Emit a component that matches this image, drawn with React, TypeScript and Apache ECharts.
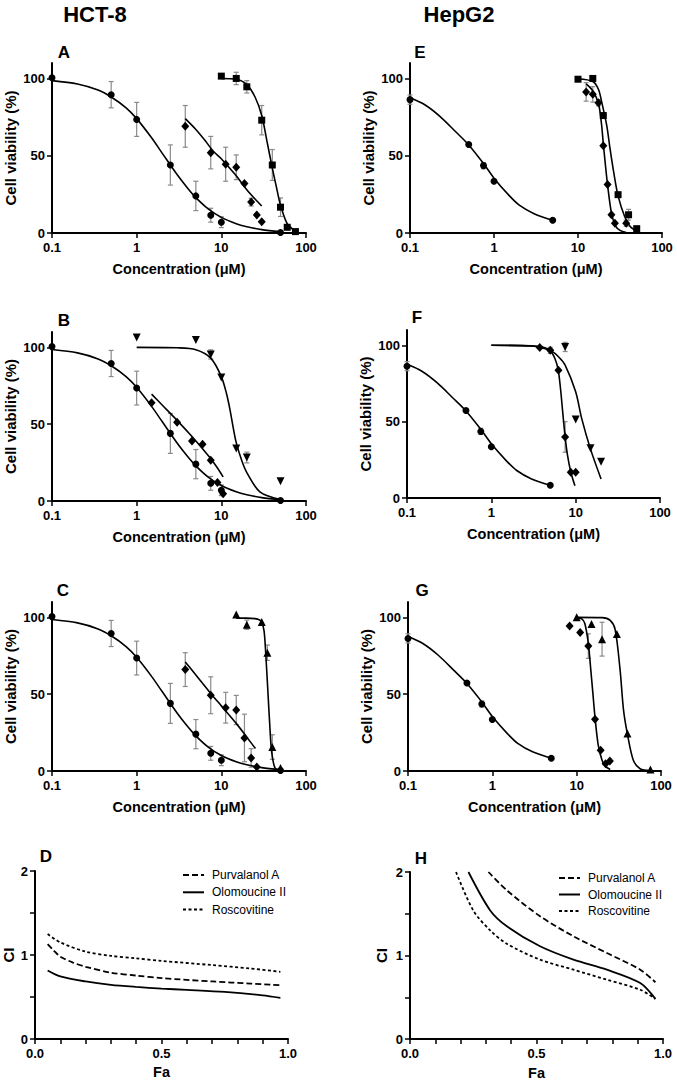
import React, { useEffect, useRef } from 'react';
import * as echarts from 'echarts';

// ---------- HCT-8 reference compound (circles, panels A-C) ----------
const hctRefX = [0.1, 0.5, 1, 2.5, 5, 7.5, 10, 50];
const hctRefY = [100.5, 89.5, 73.5, 44, 24, 11.5, 7, 0.3];
const hctRefErr = [0, 8.5, 11, 13, 9.5, 4.5, 3.5, 0];
const hctRefCurve = [[0.1, 98.6], [0.2, 96.4], [0.35, 92.5], [0.5, 88], [0.75, 81], [1, 74], [1.5, 61.6], [2, 51.7], [3, 37.8], [4, 29], [5, 22.9], [7, 15.6], [10, 10.1], [15, 6], [20, 4.1], [30, 2.2], [50, 0.8]];

// ---------- Panel A ----------
const aDiaX = [3.75, 7.5, 11.25, 15, 18.75, 22.5, 26.25, 30];
const aDiaY = [69, 52, 44.5, 42.5, 32, 20, 11.7, 7.3];
const aDiaErr = [13.5, 10.5, 11, 8, 0, 2.5, 0, 0];
const aDiaCurve = [[3.75, 74], [5, 67], [6.5, 59.5], [8, 53], [10, 48], [12.5, 42], [15, 37], [20, 28], [25, 22], [30, 17.5]];
const aSqX = [10, 15, 20, 30, 40, 50, 60, 75];
const aSqY = [101.5, 100, 94.6, 73, 44, 16.7, 3.7, 0.9];
const aSqErr = [0, 4, 4, 9.5, 10, 6, 0, 0];
const aSqCurve = [[10, 100], [15, 99.5], [20, 96], [25, 88], [30, 76], [35, 58], [40, 42], [45, 29], [50, 18], [60, 6], [75, 1.2]];

// ---------- Panel B ----------
const bDiaX = [1.5, 3, 4.5, 6, 7.5, 9, 10.5];
const bDiaY = [64, 51.3, 39, 37, 26.5, 12, 4.8];
const bDiaCurve = [[1.5, 69.6], [2, 62.5], [3, 52.5], [4.5, 42], [6, 34], [7.5, 27.5], [9, 21.5], [10.5, 15.7]];
const bTriX = [1, 5, 7.5, 10, 15, 20, 50];
const bTriY = [106.5, 104.8, 95.4, 80.4, 34.1, 28.3, 12.8];
const bTriErr = [0, 0, 3, 0, 0, 3.5, 0];
const bTriCurve = [[1, 100], [3, 99.7], [5, 98.5], [7.5, 93], [10, 81], [11.5, 70], [12.6, 60], [14, 46], [15, 38], [17.5, 26], [20, 18.5], [28.5, 6], [50, 1]];

// ---------- Panel C ----------
const cDiaX = [3.75, 7.5, 11.25, 15, 18.75, 22.5, 26.25];
const cDiaY = [66, 49.3, 41.2, 39.7, 21.5, 8.5, 2.6];
const cDiaErr = [11, 12, 10, 9.5, 15.5, 6, 0];
const cDiaCurve = [[3.75, 71], [5, 62.5], [7.5, 50.5], [10, 42.4], [15, 31], [20, 22], [25.3, 14.6]];
const cTriX = [15, 20, 30, 35, 40, 50];
const cTriY = [101.8, 95.2, 97, 77, 15.6, 2];
const cTriErr = [0, 3, 0, 5, 8, 0];
const cTriCurve = [[15, 99.5], [20, 99.5], [25, 99.2], [28, 98.5], [30, 97], [32, 91], [33.5, 76], [35.7, 49], [37.5, 28], [39.2, 13], [43, 2], [50, 0.2]];

// ---------- HepG2 reference compound (circles, panels E-G) ----------
const hepRefX = [0.1, 0.5, 0.75, 1, 5];
const hepRefY = [86.3, 57.3, 43.6, 33.5, 8.3];
const hepRefErr = [3, 0, 2, 0, 0];
const hepRefCurve = [[0.1, 87.5], [0.15, 83], [0.227, 75.5], [0.35, 65.5], [0.5, 57], [0.75, 45], [1, 35.5], [1.5, 24.5], [2, 18], [3, 12.5], [5, 8.3]];

// ---------- Panel E ----------
const eSqX = [10, 15, 20, 30, 40, 50];
const eSqY = [99.5, 100, 76, 24.8, 11.8, 2.8];
const eSqErr = [0, 0, 0, 0, 3.5, 0];
const eSqCurve = [[10, 99.8], [15, 98], [17.5, 93], [19.1, 85], [22, 69.5], [24, 55], [26.3, 41], [30, 24], [36, 10.5], [42, 4], [50, 1.2]];
const eDiaX = [12.5, 15, 17.5, 20, 22.5, 25, 27.5, 37.5];
const eDiaY = [91.3, 89.7, 84.3, 56.4, 31.4, 11.8, 6.3, 6.3];
const eDiaErr = [6, 5, 2, 0, 0, 0, 0, 2];
const eDiaCurve = [[12.5, 96.5], [15, 92], [17.5, 84], [19, 71], [20, 58], [21.2, 44], [22.5, 31], [25, 13], [28, 4.5], [32, 1.5], [37.5, 0.3]];

// ---------- Panel F ----------
const fDiaX = [3.75, 5, 6.25, 7.5, 8.75, 10];
const fDiaY = [98.5, 96.7, 83.7, 40, 16.8, 16.8];
const fDiaErr = [0, 2, 0, 10, 0, 0];
const fDiaCurve = [[1, 100], [3, 99.6], [4, 98.8], [5, 96.5], [5.7, 91], [6.2, 84], [6.6, 72], [7, 57], [7.5, 40], [8, 28], [8.75, 17], [9.8, 8]];
const fTriX = [7.5, 10, 15, 20];
const fTriY = [98.9, 51.4, 32.5, 23.7];
const fTriErr = [3, 0, 0, 0];
const fTriCurve = [[1, 100], [3, 99.5], [5, 96.5], [6.25, 92.5], [7.5, 87], [10, 69.5], [11.8, 52], [15, 32], [20, 12.5]];

// ---------- Panel G ----------
const gDiaX = [8.25, 11, 13.75, 16.5, 19.25, 22, 24.75];
const gDiaY = [94.3, 90.2, 81.3, 33.7, 13.5, 4.8, 6.5];
const gDiaErr = [0, 0, 8, 0, 0, 0, 0];
const gDiaCurve = [[10, 100], [11.5, 99], [12.5, 96], [13.75, 83], [14.7, 66], [15.6, 50], [16.5, 35], [18, 17], [20, 7], [22, 3], [25, 1]];
const gTriX = [10, 15, 20, 30, 40, 75];
const gTriY = [100, 95.6, 85.8, 89.1, 24.4, 0.9];
const gTriErr = [0, 0, 11, 0, 0, 0];
const gTriCurve = [[10, 100], [20, 99.8], [25, 98], [28.6, 92], [32.7, 66], [35.9, 40], [40, 24], [47, 7], [56.5, 1.5], [75, 0.2]];

// ---------- Panel D (CI vs Fa, HCT-8) ----------
const dPurvalanol = [[0.05, 1.13], [0.075, 1.05], [0.1, 0.98], [0.15, 0.91], [0.2, 0.86], [0.3, 0.79], [0.4, 0.755], [0.5, 0.725], [0.7, 0.685], [0.85, 0.66], [0.97, 0.64]];
const dOlomoucine = [[0.05, 0.815], [0.1, 0.745], [0.2, 0.685], [0.3, 0.645], [0.4, 0.62], [0.5, 0.6], [0.6, 0.585], [0.75, 0.56], [0.9, 0.52], [0.97, 0.49]];
const dRoscovitine = [[0.05, 1.25], [0.1, 1.15], [0.2, 1.04], [0.3, 0.99], [0.4, 0.96], [0.5, 0.93], [0.7, 0.88], [0.85, 0.84], [0.97, 0.8]];

// ---------- Panel H (CI vs Fa, HepG2) ----------
const hPurvalanol = [[0.31, 2.0], [0.383, 1.78], [0.514, 1.47], [0.646, 1.23], [0.778, 1.03], [0.91, 0.83], [0.97, 0.68]];
const hOlomoucine = [[0.231, 2.0], [0.317, 1.54], [0.383, 1.35], [0.514, 1.11], [0.646, 0.95], [0.778, 0.83], [0.91, 0.67], [0.97, 0.48]];
const hRoscovitine = [[0.182, 2.0], [0.25, 1.54], [0.317, 1.3], [0.383, 1.14], [0.514, 0.95], [0.646, 0.83], [0.778, 0.71], [0.91, 0.59], [0.97, 0.48]];

const legendNames = ['Purvalanol A', 'Olomoucine II', 'Roscovitine'];
const viabTicks = [0, 50, 100];
const ciTicks = [0, 1, 2];
const faLabels = [0, 0.5, 1];

const FONT = "'Liberation Sans', Arial, Helvetica, sans-serif";

const pts = (xs: number[], ys: number[]) => xs.map((x, i) => [x, ys[i]]);

function scatter(g: number, xs: number[], ys: number[], symbol: string, size: any, rotate = 0) {
  return {
    type: 'scatter', xAxisIndex: g, yAxisIndex: g, data: pts(xs, ys), symbol, symbolSize: size,
    symbolRotate: rotate, itemStyle: { color: '#000', opacity: 1 }, z: 4, silent: true,
  };
}
function curve(g: number, data: number[][], name?: string, dash?: any, width = 1.6) {
  return {
    type: 'line', name, xAxisIndex: g, yAxisIndex: g, data, symbol: 'none', showSymbol: false,
    smooth: 0.3,
    lineStyle: { color: '#000', width, type: dash || 'solid' }, itemStyle: { color: '#000' }, z: 3, silent: true,
  };
}
function errBars(g: number, xs: number[], ys: number[], es: number[]) {
  return {
    type: 'custom', xAxisIndex: g, yAxisIndex: g, silent: true, z: 2,
    data: xs.map((x, i) => [x, ys[i], es[i]]).filter((d) => d[2] > 0),
    encode: { x: 0, y: 1 },
    renderItem: (params: any, api: any) => {
      const x = api.value(0), y = api.value(1), e = api.value(2);
      const t = api.coord([x, y + e]);
      const b = api.coord([x, Math.max(0.01, y - e)]);
      const w = 2.5;
      const style = { stroke: '#8a8a8a', lineWidth: 1.2 };
      return {
        type: 'group', children: [
          { type: 'line', shape: { x1: t[0], y1: t[1], x2: b[0], y2: b[1] }, style },
          { type: 'line', shape: { x1: t[0] - w, y1: t[1], x2: t[0] + w, y2: t[1] }, style },
          { type: 'line', shape: { x1: b[0] - w, y1: b[1], x2: b[0] + w, y2: b[1] }, style },
        ],
      };
    },
  };
}

const axisLineStyle = { show: true, onZero: false, lineStyle: { color: '#000', width: 2 } };
const tickStyle = { show: true, length: 5, lineStyle: { color: '#000', width: 1.5 } };
const labelBase = { fontFamily: FONT, fontWeight: 'bold', fontSize: 13, color: '#000' };
const xNameStyle = { fontFamily: FONT, fontWeight: 'bold', fontSize: 14.5, color: '#000' };
const yNameStyle = { fontFamily: FONT, fontWeight: 'bold', fontSize: 15, color: '#000' };

function logX(g: number) {
  return {
    type: 'log', logBase: 10, min: 0.1, max: 100, gridIndex: g,
    name: 'Concentration (\u03bcM)', nameLocation: 'middle', nameGap: 28, nameTextStyle: xNameStyle,
    axisLine: axisLineStyle, axisTick: tickStyle,
    axisLabel: { ...labelBase, margin: 8, formatter: (v: number) => String(+Number(v).toPrecision(3)) },
    splitLine: { show: false }, minorTick: { show: false },
  };
}
function viabY(g: number) {
  return {
    type: 'value', min: 0, max: 110, gridIndex: g,
    name: 'Cell viability (%)', nameLocation: 'middle', nameGap: 34, nameTextStyle: yNameStyle,
    axisLine: axisLineStyle, axisTick: { ...tickStyle, customValues: viabTicks },
    axisLabel: { ...labelBase, margin: 7, customValues: viabTicks },
    splitLine: { show: false },
  };
}
function faX(g: number, gap: number) {
  return {
    type: 'value', min: 0, max: 1, interval: 0.1, gridIndex: g,
    name: 'Fa', nameLocation: 'middle', nameGap: gap, nameTextStyle: xNameStyle,
    axisLine: axisLineStyle, axisTick: tickStyle,
    axisLabel: { ...labelBase, margin: 8, customValues: faLabels, formatter: (v: number) => v.toFixed(1) },
    splitLine: { show: false },
  };
}
function ciY(g: number, gap: number) {
  return {
    type: 'value', min: 0, max: 2, interval: 0.5, gridIndex: g,
    name: 'CI', nameLocation: 'middle', nameGap: gap, nameTextStyle: yNameStyle,
    axisLine: axisLineStyle, axisTick: tickStyle,
    axisLabel: { ...labelBase, margin: 7, customValues: ciTicks, formatter: (v: number) => String(v) },
    splitLine: { show: false },
  };
}

const LONG_DASH = [6, 3];
const SHORT_DASH = [3, 2.5];

function textEl(text: string, x: number, y: number, size: number) {
  return {
    type: 'text', x, y, silent: true,
    style: { text, fontFamily: FONT, fontWeight: 'bold', fontSize: size, fill: '#000', align: 'center', verticalAlign: 'middle' },
  };
}

function legendAt(left: number, top: number, gap: number) {
  return {
    data: legendNames, orient: 'vertical', left, top, padding: 0,
    itemWidth: 21, itemHeight: 14, itemGap: gap, selectedMode: false,
    itemStyle: { opacity: 0, borderWidth: 0 },
    textStyle: { fontFamily: FONT, fontSize: 12, color: '#000', padding: [0, 0, 0, 3] },
  };
}

export default function App() {
  const ref = useRef<HTMLDivElement>(null);
  useEffect(() => {
    document.body.style.margin = '0';
    const chart = echarts.init(ref.current!, null, { renderer: 'svg' });
    const option: any = {
      animation: false,
      backgroundColor: '#fff',
      grid: [
        { left: 52, top: 63, width: 254, height: 170 },   // A
        { left: 52, top: 332, width: 254, height: 169 },  // B
        { left: 52, top: 602, width: 254, height: 169 },  // C
        { left: 34, top: 871, width: 254, height: 168 },  // D
        { left: 410, top: 63, width: 252, height: 170 },  // E
        { left: 407, top: 330, width: 253, height: 168 }, // F
        { left: 408, top: 602, width: 253, height: 169 }, // G
        { left: 410, top: 872, width: 253, height: 168 }, // H
      ],
      xAxis: [logX(0), logX(1), logX(2), faX(3, 25), logX(4), logX(5), logX(6), faX(7, 26)],
      yAxis: [viabY(0), viabY(1), viabY(2), ciY(3, 19), viabY(4), viabY(5), viabY(6), ciY(7, 21)],
      legend: [legendAt(182, 869, 5.3), legendAt(558, 872, 4.5)],
      graphic: [
        textEl('HCT-8', 95, 14, 22),
        textEl('HepG2', 459, 14, 22),
        textEl('A', 64, 52, 17),
        textEl('B', 64, 320, 17),
        textEl('C', 63, 590, 17),
        textEl('D', 46, 856, 17),
        textEl('E', 420, 52, 17),
        textEl('F', 417, 317, 17),
        textEl('G', 422, 590, 17),
        textEl('H', 421, 858, 17),
      ],
      series: [
        // A
        errBars(0, hctRefX, hctRefY, hctRefErr),
        errBars(0, aDiaX, aDiaY, aDiaErr),
        errBars(0, aSqX, aSqY, aSqErr),
        curve(0, hctRefCurve), curve(0, aDiaCurve), curve(0, aSqCurve),
        scatter(0, hctRefX, hctRefY, 'circle', 7),
        scatter(0, aDiaX, aDiaY, 'diamond', [8, 9]),
        scatter(0, aSqX, aSqY, 'rect', 7),
        // B
        errBars(1, hctRefX, hctRefY, hctRefErr),
        errBars(1, bTriX, bTriY, bTriErr),
        curve(1, hctRefCurve), curve(1, bDiaCurve), curve(1, bTriCurve),
        scatter(1, hctRefX, hctRefY, 'circle', 7),
        scatter(1, bDiaX, bDiaY, 'diamond', [8, 9]),
        scatter(1, bTriX, bTriY, 'triangle', 8, 180),
        // C
        errBars(2, hctRefX, hctRefY, hctRefErr),
        errBars(2, cDiaX, cDiaY, cDiaErr),
        errBars(2, cTriX, cTriY, cTriErr),
        curve(2, hctRefCurve), curve(2, cDiaCurve), curve(2, cTriCurve),
        scatter(2, hctRefX, hctRefY, 'circle', 7),
        scatter(2, cDiaX, cDiaY, 'diamond', [8, 9]),
        scatter(2, cTriX, cTriY, 'triangle', 8),
        // D
        curve(3, dPurvalanol, 'Purvalanol A', LONG_DASH, 1.8),
        curve(3, dOlomoucine, 'Olomoucine II', 'solid', 1.8),
        curve(3, dRoscovitine, 'Roscovitine', SHORT_DASH, 1.8),
        // E
        errBars(4, hepRefX, hepRefY, hepRefErr),
        errBars(4, eSqX, eSqY, eSqErr),
        errBars(4, eDiaX, eDiaY, eDiaErr),
        curve(4, hepRefCurve), curve(4, eSqCurve), curve(4, eDiaCurve),
        scatter(4, hepRefX, hepRefY, 'circle', 7),
        scatter(4, eSqX, eSqY, 'rect', 7),
        scatter(4, eDiaX, eDiaY, 'diamond', [8, 9]),
        // F
        errBars(5, hepRefX, hepRefY, hepRefErr),
        errBars(5, fDiaX, fDiaY, fDiaErr),
        errBars(5, fTriX, fTriY, fTriErr),
        curve(5, hepRefCurve), curve(5, fDiaCurve), curve(5, fTriCurve),
        scatter(5, hepRefX, hepRefY, 'circle', 7),
        scatter(5, fDiaX, fDiaY, 'diamond', [8, 9]),
        scatter(5, fTriX, fTriY, 'triangle', 8, 180),
        // G
        errBars(6, hepRefX, hepRefY, hepRefErr),
        errBars(6, gDiaX, gDiaY, gDiaErr),
        errBars(6, gTriX, gTriY, gTriErr),
        curve(6, hepRefCurve), curve(6, gDiaCurve), curve(6, gTriCurve),
        scatter(6, hepRefX, hepRefY, 'circle', 7),
        scatter(6, gDiaX, gDiaY, 'diamond', [8, 9]),
        scatter(6, gTriX, gTriY, 'triangle', 8),
        // H
        curve(7, hPurvalanol, 'Purvalanol A', LONG_DASH, 1.8),
        curve(7, hOlomoucine, 'Olomoucine II', 'solid', 1.8),
        curve(7, hRoscovitine, 'Roscovitine', SHORT_DASH, 1.8),
      ],
    };
    chart.setOption(option);
    return () => chart.dispose();
  }, []);
  return <div ref={ref} style={{ width: 677, height: 1081 }} />;
}
